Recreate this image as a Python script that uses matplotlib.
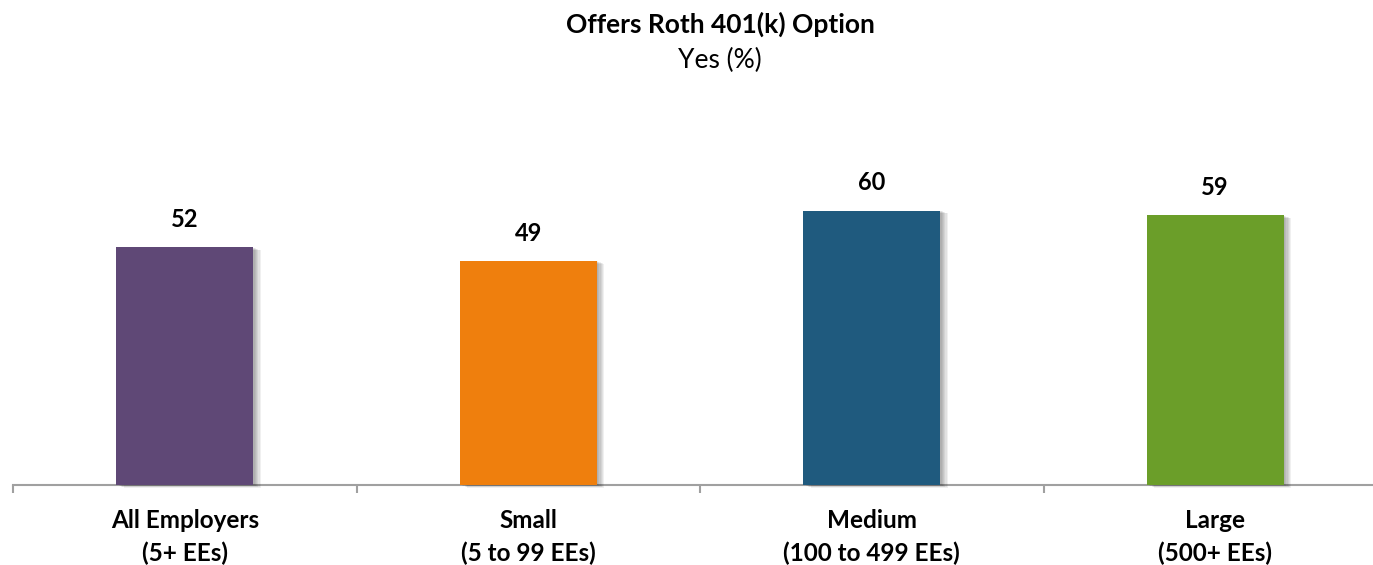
import matplotlib.pyplot as plt
from matplotlib import patheffects as pe

plt.rcParams['font.family'] = ['Lato', 'DejaVu Sans']

# datos
categorias = ['All Employers\n(5+ EEs)', 'Small\n(5 to 99 EEs)',
              'Medium\n(100 to 499 EEs)', 'Large\n(500+ EEs)']
valores = [52, 49, 60, 59]
colores = ['#5f4876', '#ef7f0d', '#1f5a7e', '#6b9e29']

fig = plt.figure(figsize=(13.73, 5.65), dpi=100)
ax = fig.add_axes([13 / 1373, 80 / 565, 1374 / 1373, 366 / 565])

x = range(len(valores))
barras = ax.bar(x, valores, width=0.40, color=colores, zorder=3)

# sombra difusa a la derecha/abajo de cada barra
sombra = [pe.SimplePatchShadow(offset=(i * 0.9, -i * 0.35), shadow_rgbFace='k', alpha=0.06)
          for i in range(1, 7)]
for b in barras:
    b.set_path_effects(sombra + [pe.Normal()])
    b.set_clip_on(False)

for xi, v in zip(x, valores):
    ax.annotate(str(v), (xi, v), xytext=(0, 20), textcoords='offset points',
                ha='center', va='center', fontsize=17, fontweight='bold')

ax.set_xlim(-0.5, 3.5)
ax.set_ylim(0, 80)
ax.set_xticks([-0.5, 0.5, 1.5, 2.5, 3.5])
ax.set_xticklabels([])
ax.set_xticks(list(x), minor=True)
ax.set_xticklabels(categorias, minor=True, fontsize=17.5, fontweight='bold', linespacing=1.5)
ax.tick_params(axis='x', which='major', length=6, width=1.5, color='#a0a0a0')
ax.tick_params(axis='x', which='minor', length=0, pad=17)
ax.set_yticks([])
for s in ['top', 'right', 'left']:
    ax.spines[s].set_visible(False)
ax.spines['bottom'].set_color('#a0a0a0')
ax.spines['bottom'].set_linewidth(1.5)

fig.text(720 / 1373, 1 - 24 / 565, 'Offers Roth 401(k) Option', ha='center', va='center',
         fontsize=19, fontweight='bold')
fig.text(720 / 1373, 1 - 60 / 565, 'Yes (%)', ha='center', va='center', fontsize=19)

plt.savefig('out.png', dpi=100)
